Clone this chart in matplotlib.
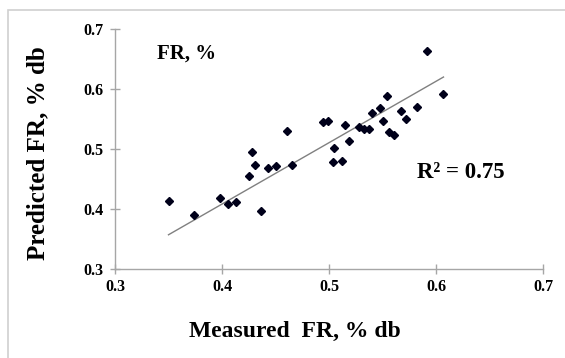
import numpy as np
import matplotlib
matplotlib.use("Agg")
import matplotlib.pyplot as plt
from matplotlib.patches import Rectangle

# Measured vs. predicted FR (% db)
measured = [0.350, 0.374, 0.398, 0.406, 0.413, 0.425, 0.428, 0.431, 0.436, 0.443,
            0.450, 0.461, 0.465, 0.494, 0.499, 0.504, 0.505, 0.512, 0.515, 0.519,
            0.528, 0.533, 0.537, 0.540, 0.548, 0.550, 0.554, 0.556, 0.561, 0.567,
            0.572, 0.582, 0.592, 0.607]
predicted = [0.414, 0.390, 0.418, 0.408, 0.412, 0.455, 0.495, 0.474, 0.396, 0.468,
             0.472, 0.530, 0.474, 0.545, 0.547, 0.478, 0.501, 0.480, 0.540, 0.514,
             0.537, 0.533, 0.533, 0.560, 0.568, 0.547, 0.588, 0.528, 0.524, 0.563,
             0.550, 0.570, 0.663, 0.591]
# linear trendline coefficients (predicted = slope * measured + intercept)
trend_slope = 1.023
trend_intercept = -0.001
ticks = [0.3, 0.4, 0.5, 0.6, 0.7]
r2_label = "R\u00b2 = 0.75"

W, H = 565, 358
fig = plt.figure(figsize=(W / 100, H / 100), dpi=100)
fig.patch.set_facecolor("white")

# light outer frame of the chart area
fig.patches.append(Rectangle((8 / W, -0.2), 1.2, 1.2 - 10 / H,
                             transform=fig.transFigure, fill=False,
                             edgecolor="#d0d0d0", linewidth=1.2))

ax = fig.add_axes([115 / W, 1 - 269 / H, (543 - 115) / W, (269 - 29) / H])
serif = "Liberation Serif"

x = np.array(measured)
y = np.array(predicted)
ax.plot(x, y, linestyle="none", marker="D", markersize=4.3,
        color="#00001a", zorder=3)

xs = np.array([x.min(), x.max()])
ax.plot(xs, trend_slope * xs + trend_intercept, color="#808080",
        linewidth=1.0, zorder=2)

ax.set_xlim(0.3, 0.7)
ax.set_ylim(0.3, 0.7)
ax.set_xticks(ticks)
ax.set_yticks(ticks)
ax.set_xticklabels([f"{t:.1f}" for t in ticks])
ax.set_yticklabels([f"{t:.1f}" for t in ticks])

for side in ("top", "right"):
    ax.spines[side].set_visible(False)
for side in ("left", "bottom"):
    ax.spines[side].set_color("#a6a6a6")
    ax.spines[side].set_linewidth(1.0)

ax.tick_params(axis="both", direction="inout", length=7, width=1.0,
               color="#a6a6a6", labelsize=11.5)
ax.tick_params(axis="x", pad=4)
ax.tick_params(axis="y", pad=5)
for lab in ax.get_xticklabels() + ax.get_yticklabels():
    lab.set_fontfamily(serif)
    lab.set_fontweight("bold")

fig.text(295 / W, 1 - 331 / H, "Measured  FR, % db", ha="center", va="center",
         fontsize=17, fontweight="bold", family=serif)
fig.text(38 / W, 1 - 153 / H, "Predicted FR, % db", ha="center", va="center",
         rotation=90, fontsize=18, fontweight="bold", family=serif)

fig.text(157 / W, 1 - 59 / H, "FR, %", ha="left", va="baseline",
         fontsize=15, fontweight="bold", family=serif)
fig.text(417 / W, 1 - 178 / H, r2_label, ha="left", va="baseline",
         fontsize=16.5, fontweight="bold", family=serif)

fig.savefig("out.png", dpi=100, facecolor="white")
